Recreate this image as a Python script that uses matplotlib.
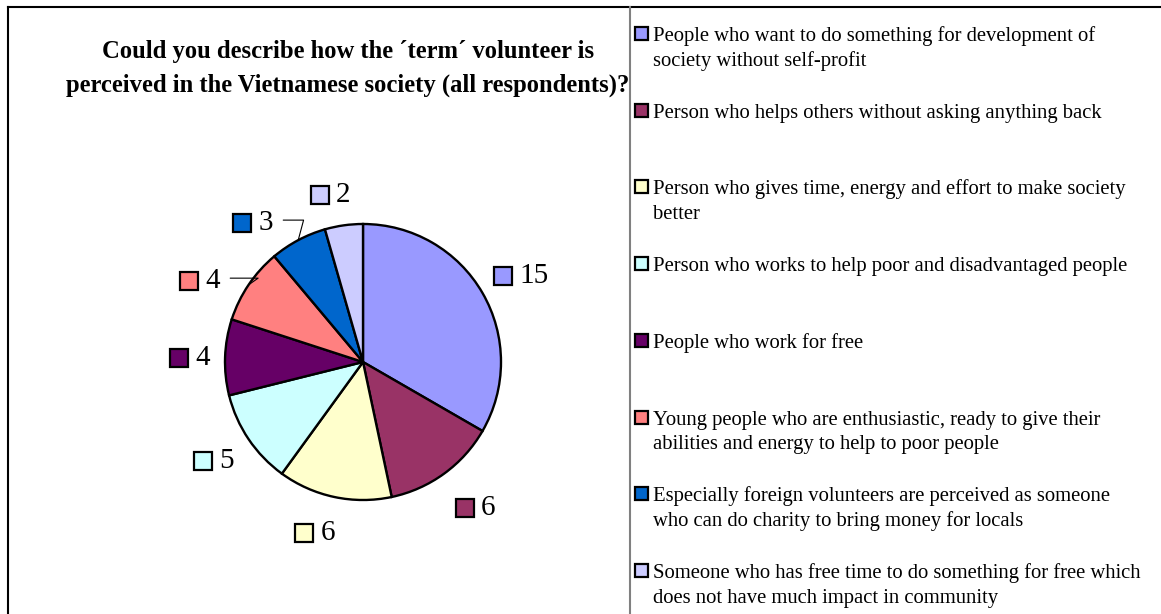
import numpy as np
import matplotlib
matplotlib.use("Agg")
import matplotlib.pyplot as plt
from matplotlib.patches import Rectangle
from matplotlib.lines import Line2D
from matplotlib.offsetbox import AnnotationBbox, DrawingArea, TextArea, HPacker

plt.rcParams['font.family'] = ['Liberation Serif', 'DejaVu Serif']

W, H = 1161, 614

title_lines = ["Could you describe how the \u00b4term\u00b4 volunteer is",
               "perceived in the Vietnamese society (all respondents)?"]

answers = [
    "People who want to do something for development of\nsociety without self-profit",
    "Person who helps others without asking anything back",
    "Person who gives time, energy and effort to make society\nbetter",
    "Person who works to help poor and disadvantaged people",
    "People who work for free",
    "Young people who are enthusiastic, ready to give their\nabilities and energy to help to poor people",
    "Especially foreign volunteers are perceived as someone\nwho can do charity to bring money for locals",
    "Someone who has free time to do something for free which\ndoes not have much impact in community",
]
counts = [15, 6, 6, 5, 4, 4, 3, 2]
colors = ["#9999FF", "#993366", "#FFFFCC", "#CCFFFF",
          "#660066", "#FF8080", "#0066CC", "#CCCCFF"]

# value label placement: angular shift (deg) and distance (in radii);
# the shifted ones get a leader line
label_shift = [-1, 2, -4, -1, 0, 7, 10, 3]
label_dist = [1.31, 1.32, 1.27, 1.29, 1.26, 1.33, 1.30, 1.25]
has_leader = [False, False, False, False, False, True, True, False]


def fx(px):
    return px / W


def fy(py):
    return 1 - py / H


fig = plt.figure(figsize=(W / 100, H / 100), dpi=100)

# pie axes: centre (363, 362) px, radius 138 px
R = 138
L = 1.6
cx, cy = 363, 362
side = 2 * L * R
ax = fig.add_axes([fx(cx - side / 2), fy(cy + side / 2), side / W, side / H])
wedges, _ = ax.pie(counts, colors=colors, startangle=90, counterclock=False,
                   wedgeprops=dict(edgecolor="black", linewidth=1.7))
ax.set_xlim(-L, L)
ax.set_ylim(-L, L)
ax.set_aspect("equal")
ax.axis("off")

for w, n, c, shift, dist, lead in zip(wedges, counts, colors, label_shift,
                                      label_dist, has_leader):
    mid = np.deg2rad((w.theta1 + w.theta2) / 2)
    ang = mid + np.deg2rad(shift)
    lx, ly = dist * np.cos(ang), dist * np.sin(ang)
    da = DrawingArea(14.5, 14.5, 0, 0)
    da.add_artist(Rectangle((0.8, 0.8), 12.9, 12.9, facecolor=c,
                            edgecolor="black", linewidth=1.6))
    ta = TextArea(str(n), textprops=dict(fontsize=21, color="black"))
    box = HPacker(children=[da, ta], pad=0, sep=4.5, align="center")
    kw = {}
    if lead:
        kw["arrowprops"] = dict(arrowstyle="-", color="black", lw=0.8,
                                relpos=(1.0, 0.6), shrinkA=7, shrinkB=0,
                                connectionstyle="angle,angleA=0,angleB=%d,rad=0"
                                % (75 if n == 3 else 35))
    ab = AnnotationBbox(box, (np.cos(mid), np.sin(mid)), xybox=(lx, ly),
                        xycoords="data", boxcoords="data", frameon=False,
                        box_alignment=(0.5, 0.58), pad=0, **kw)
    ax.add_artist(ab)

for line, base in zip(title_lines, [58, 92]):
    fig.text(fx(348), fy(base), line, ha="center", va="baseline",
             fontsize=17.7, fontweight="bold")

# legend column on the right, one text per wrapped line
row_base = 41
row_step = 76.7
line_step = 25
for i, (txt, c) in enumerate(zip(answers, colors)):
    yb = row_base + i * row_step
    fig.patches.append(Rectangle((fx(635), fy(yb - 1)), 13 / W, 13 / H,
                                 transform=fig.transFigure, facecolor=c,
                                 edgecolor="black", linewidth=1.6))
    for k, part in enumerate(txt.split("\n")):
        fig.text(fx(653), fy(yb + k * line_step), part, ha="left",
                 va="baseline", fontsize=14.9)

# frame lines
fig.lines.append(Line2D([fx(8), fx(W)], [fy(7), fy(7)], transform=fig.transFigure,
                        color="black", lw=1.5))
fig.lines.append(Line2D([fx(8), fx(8)], [fy(7), 0], transform=fig.transFigure,
                        color="black", lw=1.5))
fig.lines.append(Line2D([fx(630), fx(630)], [fy(7), 0], transform=fig.transFigure,
                        color="#808080", lw=1.5))

fig.savefig("out.png", dpi=100)
